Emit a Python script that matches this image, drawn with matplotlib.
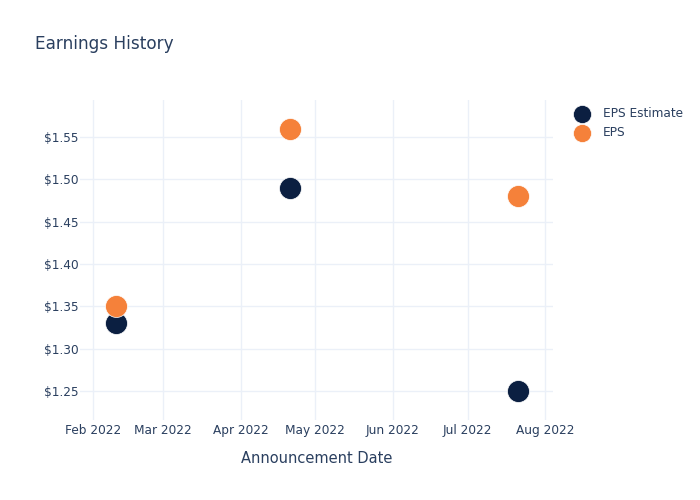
import matplotlib
matplotlib.use('Agg')
from matplotlib import pyplot as plt
import matplotlib.dates as mdates
from matplotlib.ticker import FuncFormatter
from datetime import datetime

dates = ['2022-02-10', '2022-04-21', '2022-07-21']
eps_estimate = [1.33, 1.49, 1.25]
eps_actual = [1.35, 1.56, 1.48]
y_ticks = [1.25, 1.30, 1.35, 1.40, 1.45, 1.50, 1.55]
x_ticks = ['2022-02-01', '2022-03-01', '2022-04-01', '2022-05-01',
           '2022-06-01', '2022-07-01', '2022-08-01']

txt = '#2a3f5f'
navy = '#0b1f41'
orange = '#f5813a'

to_dt = lambda s: datetime.strptime(s, '%Y-%m-%d')
x = [to_dt(d) for d in dates]

fig = plt.figure(figsize=(7, 5), dpi=100)
ax = fig.add_axes([80 / 700, 80 / 500, 473 / 700, 320 / 500])

ax.scatter(x, eps_estimate, s=250, c=navy, edgecolors='white', linewidths=0.5,
           label='EPS Estimate', zorder=3)
ax.scatter(x, eps_actual, s=250, c=orange, edgecolors='white', linewidths=0.5,
           label='EPS', zorder=4)

ax.set_xlim(mdates.date2num(datetime(2022, 1, 26, 16)),
            mdates.date2num(datetime(2022, 8, 4, 5)))
ax.set_ylim(1.2157, 1.5937)
ax.set_xticks([to_dt(d) for d in x_ticks])
ax.xaxis.set_major_formatter(mdates.DateFormatter('%b %Y'))
ax.set_yticks(y_ticks)
ax.yaxis.set_major_formatter(FuncFormatter(lambda v, p: '${:.2f}'.format(v)))

ax.grid(True, color='#ebf0f8', linewidth=1)
ax.set_axisbelow(True)
for s in ax.spines.values():
    s.set_visible(False)
ax.tick_params(axis='both', length=0, labelsize=8.7, colors=txt)
ax.tick_params(axis='x', pad=3)
ax.tick_params(axis='y', pad=1)

ax.set_xlabel('Announcement Date', fontsize=10.5, color=txt, labelpad=10)
fig.text(35 / 700, 1 - 44 / 500, 'Earnings History', fontsize=12.2, color=txt,
         va='center', ha='left')

leg = ax.legend(loc='upper left', bbox_to_anchor=(570 / 700, 1 - 107 / 500),
                bbox_transform=fig.transFigure, frameon=False, fontsize=8.7,
                labelcolor=txt, handletextpad=0.7, labelspacing=0.5,
                borderaxespad=0, borderpad=0)
for h in leg.legend_handles:
    h.set_sizes([170])

fig.savefig('out.png', dpi=100)
